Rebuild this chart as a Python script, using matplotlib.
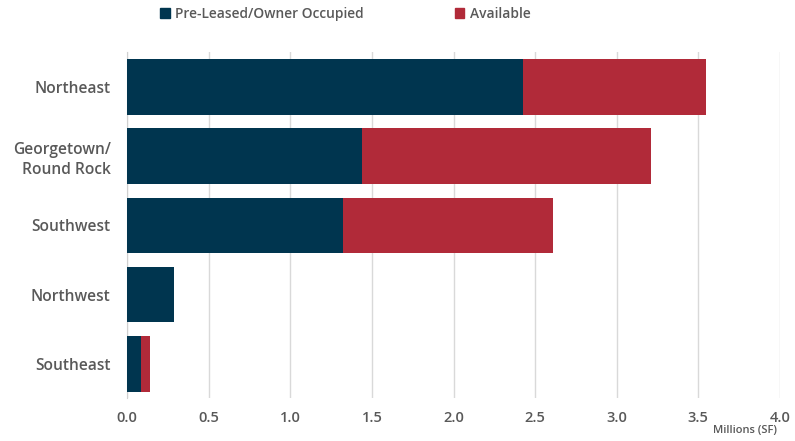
import matplotlib
matplotlib.use("Agg")
import matplotlib.pyplot as plt
from matplotlib.patches import Patch

categories = ["Northeast", "Georgetown/\nRound Rock", "Southwest", "Northwest", "Southeast"]
preleased = [2.425, 1.44, 1.32, 0.285, 0.085]
available = [1.125, 1.77, 1.29, 0.0, 0.055]
xticks = [0.0, 0.5, 1.0, 1.5, 2.0, 2.5, 3.0, 3.5, 4.0]

dark = "#00354f"
red = "#b12a39"
txt = "#595959"
w = 'semibold'

plt.rcParams['font.family'] = ['Open Sans', 'DejaVu Sans']

fig = plt.figure(figsize=(7.95, 4.41), dpi=100)
ax = fig.add_axes([0.16, 0.0964, 0.821, 0.785])

y = list(range(len(categories)))
ax.barh(y, preleased, height=0.8, color=dark, zorder=3)
ax.barh(y, available, left=preleased, height=0.8, color=red, zorder=3)

ax.set_ylim(len(categories) - 0.5, -0.5)
ax.set_xlim(0, 4.0)
ax.set_xticks(xticks)
ax.set_xticklabels([f"{v:.1f}" for v in xticks], color=txt, fontsize=10.5, fontweight=w)
ax.set_yticks(y)
ax.set_yticklabels(categories, color=txt, fontsize=11.2, fontweight=w, linespacing=1.35)
ax.tick_params(axis='y', length=0, pad=12)
ax.tick_params(axis='x', length=0, pad=9)
ax.grid(axis='x', color="#d9d9d9", linewidth=1, zorder=0)
for s in ["top", "right", "bottom"]:
    ax.spines[s].set_visible(False)
ax.spines["left"].set_color("#d0d0d0")

fig.text(0.977, 0.012, "Millions (SF)", ha='right', va='bottom', color=txt, fontsize=8, fontweight=w)

handles = [Patch(color=dark, label="Pre-Leased/Owner Occupied"), Patch(color=red, label="Available")]
fig.legend(handles=handles, loc='upper left', bbox_to_anchor=(0.186, 1.012), ncol=2, frameon=False,
           handlelength=0.7, handleheight=0.7, handletextpad=0.4, columnspacing=6.6,
           prop={'size': 9.9, 'weight': w}, labelcolor=txt)

fig.savefig("out.png", dpi=100)
